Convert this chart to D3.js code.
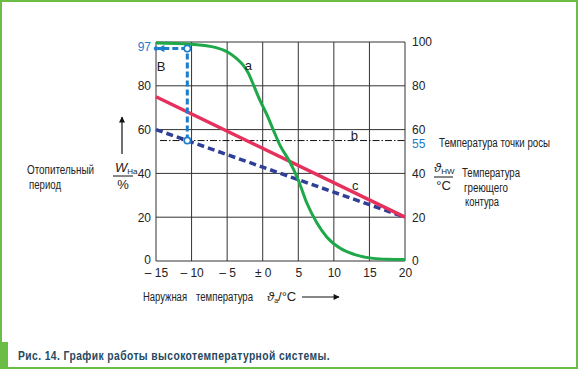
<!DOCTYPE html>
<html>
<head>
<meta charset="utf-8">
<script src="https://cdn.jsdelivr.net/npm/d3@7"></script>
<style>
body { margin: 0; background: #fff; }
svg text { font-family: "Liberation Sans", Arial, sans-serif; fill: #222; }
</style>
</head>
<body>
<svg id="chart" width="578" height="369"></svg>
<script>
var svg = d3.select("#chart")
var width = +svg.attr("width"), height = +svg.attr("height")

// Data
var xTicks = [-15, -10, -5, 0, 5, 10, 15, 20]
var xTickLabels = ["\u2013 15", "\u2013 10", "\u2013 5", "\u00b1 0", "5", "10", "15", "20"]
var leftTicks = [0, 20, 40, 60, 80]
var rightTicks = [0, 20, 40, 60, 80, 100]
// curve a: heating-period share W_Ha, %
var curveA_t = [-15, -10.2, -7.4, -5.5, -4.6, -3.7, -2.7, -2, -1.3, -0.4, 0.6, 1.5, 2.4, 3.8, 5, 6.2, 7.6, 9, 10.9, 13.2, 15.5, 17.5, 20]
var curveA_v = [99.5, 99, 98, 96.3, 94.8, 92.5, 89.2, 85.7, 80.4, 73.5, 66.7, 59.8, 53, 45.3, 37, 26.5, 17.5, 11, 5.8, 2.7, 1.2, 0.8, 0.7]
// line c: heating circuit temperature
var lineC_t = [-15, 20]
var lineC_v = [75, 20]
// dashed blue: return temperature
var lineD_t = [-15, 20]
var lineD_v = [60, 20]
// line b: dew point
var dewPoint = 55
// marker point B
var markerT = -10.6
var markerShare = 97

// Scales
var x = d3.scaleLinear().domain([-15, 20]).range([156, 405])
var y = d3.scaleLinear().domain([0, 100]).range([261, 42])

var green = "#1fa84a", red = "#e5315c", navy = "#2f3f98", lightBlue = "#1b7dcc", border = "#6cbd45"

// frame
svg.append("rect").attr("x", 1).attr("y", 1).attr("width", width - 2).attr("height", height - 2)
    .attr("fill", "none").attr("stroke", border).attr("stroke-width", 2)
svg.append("rect").attr("x", 0).attr("y", 342).attr("width", 8).attr("height", height - 342).attr("fill", border)

var defs = svg.append("defs")
defs.append("marker").attr("id", "arrBlack").attr("viewBox", "0 0 10 10")
    .attr("refX", 9).attr("refY", 5).attr("markerWidth", 9).attr("markerHeight", 6)
    .attr("markerUnits", "userSpaceOnUse").attr("orient", "auto")
    .append("path").attr("d", "M0,0L10,5L0,10Z").attr("fill", "#111")
defs.append("marker").attr("id", "arrBlue").attr("viewBox", "0 0 10 10")
    .attr("refX", 9).attr("refY", 5).attr("markerWidth", 8).attr("markerHeight", 7)
    .attr("markerUnits", "userSpaceOnUse").attr("orient", "auto")
    .append("path").attr("d", "M0,0L10,5L0,10Z").attr("fill", lightBlue)

// grid
var grid = svg.append("g")
grid.selectAll("vline").data(xTicks).enter().append("line")
    .attr("x1", d => x(d)).attr("x2", d => x(d)).attr("y1", y(0)).attr("y2", y(100))
    .attr("stroke", "#333").attr("stroke-width", 1)
grid.selectAll("hline").data(rightTicks).enter().append("line")
    .attr("x1", x(-15)).attr("x2", x(20)).attr("y1", d => y(d)).attr("y2", d => y(d))
    .attr("stroke", "#333").attr("stroke-width", 1)

// axes (labels only)
var fontSize = "12px"
var xAxis = svg.append("g").attr("transform", "translate(0," + y(0) + ")")
    .call(d3.axisBottom(x).tickValues(xTicks).tickSize(0).tickPadding(7)
        .tickFormat((d, i) => xTickLabels[i]))
var yLeft = svg.append("g").attr("transform", "translate(" + x(-15) + ",0)")
    .call(d3.axisLeft(y).tickValues(leftTicks).tickSize(0).tickPadding(5))
var yRight = svg.append("g").attr("transform", "translate(" + x(20) + ",0)")
    .call(d3.axisRight(y).tickValues(rightTicks).tickSize(0).tickPadding(7))
;[xAxis, yLeft, yRight].forEach(function(g) {
    g.select(".domain").remove()
    g.selectAll("text").style("font-size", fontSize).attr("fill", "#111")
        .style("font-family", "'Liberation Sans', Arial, sans-serif")
})
yLeft.selectAll(".tick text").filter(d => d === 0).attr("dy", "0.2em")

// highlighted tick values
svg.append("text").attr("x", x(-15) - 5).attr("y", y(markerShare)).attr("dy", "0.2em")
    .attr("text-anchor", "end").style("font-size", fontSize).style("fill", lightBlue).text("97")
svg.append("text").attr("x", x(20) + 7).attr("y", y(dewPoint)).attr("dy", "0.62em")
    .style("font-size", fontSize).style("fill", lightBlue).text("55")

// dew point line b
svg.append("line").attr("x1", x(-15) + 4).attr("x2", x(20)).attr("y1", y(dewPoint)).attr("y2", y(dewPoint))
    .attr("stroke", "#111").attr("stroke-width", 1).attr("stroke-dasharray", "7,2,1.5,2")

// lines
var line = d3.line().x(d => x(d[0])).y(d => y(d[1]))
var lineCurve = d3.line().x(d => x(d[0])).y(d => y(d[1])).curve(d3.curveMonotoneX)

svg.append("path").datum(d3.zip(lineD_t, lineD_v)).attr("d", line)
    .attr("fill", "none").attr("stroke", navy).attr("stroke-width", 3.5).attr("stroke-dasharray", "7,4")
svg.append("path").datum(d3.zip(lineC_t, lineC_v)).attr("d", line)
    .attr("fill", "none").attr("stroke", red).attr("stroke-width", 3.5)
svg.append("path").datum(d3.zip(curveA_t, curveA_v)).attr("d", lineCurve)
    .attr("fill", "none").attr("stroke", green).attr("stroke-width", 3)

// marker B construction
svg.append("line").attr("x1", x(markerT)).attr("x2", x(markerT)).attr("y1", y(dewPoint)).attr("y2", y(markerShare))
    .attr("stroke", lightBlue).attr("stroke-width", 3).attr("stroke-dasharray", "6,3")
svg.append("line").attr("x1", x(markerT)).attr("x2", x(-15) + 2).attr("y1", y(markerShare)).attr("y2", y(markerShare))
    .attr("stroke", lightBlue).attr("stroke-width", 3).attr("stroke-dasharray", "6,3")
    .attr("marker-end", "url(#arrBlue)")
svg.append("circle").attr("cx", x(-15)).attr("cy", y(markerShare)).attr("r", 2.2).attr("fill", lightBlue)
svg.selectAll("markerDots").data([dewPoint, markerShare]).enter().append("circle")
    .attr("cx", x(markerT)).attr("cy", d => y(d)).attr("r", 3.2)
    .attr("fill", "#fff").attr("stroke", lightBlue).attr("stroke-width", 1.6)

// curve labels
var curveLabels = [["B", -14.3, 89], ["a", -2.0, 89.5], ["b", 12.9, 57.5], ["c", 13.0, 34.5]]
svg.selectAll("curveLabels").data(curveLabels).enter().append("text")
    .attr("x", d => x(d[1])).attr("y", d => y(d[2])).attr("dy", "0.35em").attr("text-anchor", "middle")
    .style("font-size", "13px").text(d => d[0])

// narrow text labels (the original uses a condensed face)
function label(px, py, txt, len) {
    return svg.append("text").attr("x", px).attr("y", py).style("font-size", "12px")
        .attr("textLength", len).attr("lengthAdjust", "spacingAndGlyphs").text(txt)
}

// left description
label(27, 174, "Отопительный", 67)
label(29, 189, "период", 32)
var wFrac = svg.append("text").attr("x", 115).attr("y", 172).style("font-size", "13px")
wFrac.append("tspan").style("font-style", "italic").text("W")
wFrac.append("tspan").attr("dy", 2).style("font-size", "8px").text("На")
svg.append("line").attr("x1", 113).attr("x2", 133).attr("y1", 176).attr("y2", 176).attr("stroke", "#111").attr("stroke-width", 1)
svg.append("text").attr("x", 123).attr("y", 189).attr("text-anchor", "middle").style("font-size", "13px").text("%")
svg.append("line").attr("x1", 122).attr("x2", 122).attr("y1", 154).attr("y2", 117)
    .attr("stroke", "#111").attr("stroke-width", 1.2).attr("marker-end", "url(#arrBlack)")

// right description
label(439, 147, "Температура точки росы", 111)
var tFrac = svg.append("text").attr("x", 434).attr("y", 172).style("font-size", "13px")
tFrac.append("tspan").style("font-style", "italic").text("\u03d1")
tFrac.append("tspan").attr("dy", 2).style("font-size", "8px").text("HW")
svg.append("line").attr("x1", 434).attr("x2", 453).attr("y1", 177).attr("y2", 177).attr("stroke", "#111").attr("stroke-width", 1)
svg.append("text").attr("x", 443.5).attr("y", 190).attr("text-anchor", "middle").style("font-size", "13px").text("°C")
label(462, 177, "Температура", 58)
label(464, 192, "греющего", 44)
label(465, 206, "контура", 34)

// bottom description
label(143, 301, "Наружная", 44)
label(196, 301, "температура", 57)
var aLab = svg.append("text").attr("x", 267).attr("y", 301).style("font-size", "13px")
aLab.append("tspan").style("font-style", "italic").text("\u03d1")
aLab.append("tspan").attr("dy", 2).style("font-size", "7px").text("a")
aLab.append("tspan").attr("dy", -2).text("/°C")
svg.append("line").attr("x1", 302).attr("x2", 339).attr("y1", 297).attr("y2", 297)
    .attr("stroke", "#111").attr("stroke-width", 1.2).attr("marker-end", "url(#arrBlack)")

// caption
svg.append("text").attr("x", 18).attr("y", 360)
    .style("font-size", "12.5px").style("font-weight", "bold").style("letter-spacing", "0.5px")
    .attr("textLength", 312).attr("lengthAdjust", "spacingAndGlyphs")
    .style("fill", "#26485e").text("Рис. 14. График работы высокотемпературной системы.")
</script>
</body>
</html>
